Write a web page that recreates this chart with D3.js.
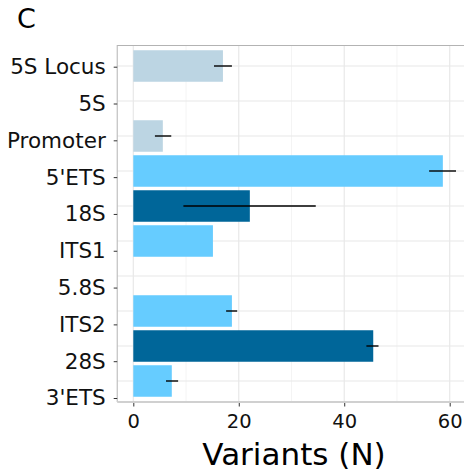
<!DOCTYPE html>
<html>
<head>
<meta charset="utf-8">
<script src="https://cdn.jsdelivr.net/npm/d3@7"></script>
<style>
  body { margin: 0; background: #fff; }
  svg { display: block; font-family: "DejaVu Sans", sans-serif; }
</style>
</head>
<body>
<div class="chart"></div>
<script>
// data
const categories = ["5S Locus", "5S", "Promoter", "5'ETS", "18S", "ITS1", "5.8S", "ITS2", "28S", "3'ETS"];
const groups = ["5S", "5S", "5S", "spacer", "gene", "spacer", "gene", "spacer", "gene", "spacer"];
const variants = [17.0, 0, 5.6, 58.7, 22.1, 15.1, 0, 18.7, 45.5, 7.3];
const lower = [15.3, null, 4.1, 56.1, 9.5, null, null, 17.6, 44.2, 6.2];
const upper = [18.7, null, 7.2, 61.2, 34.6, null, null, 19.7, 46.5, 8.5];
const xTicks = [0, 20, 40, 60];
const xMinor = [10, 30, 50];

const width = 464, height = 474;
const panel = { top: 45, bottom: 402 };

const rows = categories.map(function(c, i) {
  return { cat: c, group: groups[i], value: variants[i], lo: lower[i], hi: upper[i] };
});

const svg = d3.select('.chart').append('svg')
              .attr('width', width).attr('height', height);

// scales
const x = d3.scaleLinear().domain([0, 60]).range([133.3, 449.7]);
const xLo = -3.05, xHi = 64.3;
const yBar = d3.scaleBand().domain(categories)
               .range([panel.top, panel.bottom]).paddingInner(0.1).paddingOuter(0.15);
// the axis labels sit on their own spacing in the original
const yLab = d3.scalePoint().domain(categories).range([66.7, 398]);
const colour = d3.scaleOrdinal().domain(['5S', 'spacer', 'gene'])
                 .range(['#bcd5e3', '#66ccff', '#006699']);

// panel background + grid
svg.append('rect')
   .attr('x', x(xLo)).attr('y', panel.top)
   .attr('width', x(xHi) - x(xLo)).attr('height', panel.bottom - panel.top)
   .attr('fill', '#fff');

svg.append('g').selectAll('line').data(xMinor).enter().append('line')
   .attr('x1', d => x(d)).attr('x2', d => x(d))
   .attr('y1', panel.top).attr('y2', panel.bottom)
   .attr('stroke', '#f4f4f4').attr('stroke-width', 1);

svg.append('g').selectAll('line').data(xTicks).enter().append('line')
   .attr('x1', d => x(d)).attr('x2', d => x(d))
   .attr('y1', panel.top).attr('y2', panel.bottom)
   .attr('stroke', '#e8e8e8').attr('stroke-width', 1.2);

svg.append('g').selectAll('line').data(categories).enter().append('line')
   .attr('x1', x(xLo)).attr('x2', x(xHi))
   .attr('y1', d => yBar(d) + yBar.bandwidth() / 2)
   .attr('y2', d => yBar(d) + yBar.bandwidth() / 2)
   .attr('stroke', '#e8e8e8').attr('stroke-width', 1.2);

// bars
svg.append('g').selectAll('rect').data(rows.filter(d => d.value > 0)).enter().append('rect')
   .attr('x', x(0)).attr('y', d => yBar(d.cat))
   .attr('width', d => x(d.value) - x(0)).attr('height', yBar.bandwidth())
   .attr('fill', d => colour(d.group));

// error bars
svg.append('g').selectAll('line').data(rows.filter(d => d.lo != null)).enter().append('line')
   .attr('x1', d => x(d.lo)).attr('x2', d => x(d.hi))
   .attr('y1', d => yBar(d.cat) + yBar.bandwidth() / 2)
   .attr('y2', d => yBar(d.cat) + yBar.bandwidth() / 2)
   .attr('stroke', '#000').attr('stroke-width', 1.4);

// panel border
svg.append('line').attr('x1', x(xLo)).attr('x2', width)
   .attr('y1', panel.top + 0.5).attr('y2', panel.top + 0.5)
   .attr('stroke', '#b3b3b3');
svg.append('line').attr('x1', x(xLo)).attr('x2', x(xLo))
   .attr('y1', panel.top).attr('y2', panel.bottom)
   .attr('stroke', '#b3b3b3');
svg.append('line').attr('x1', x(xLo)).attr('x2', width)
   .attr('y1', panel.bottom).attr('y2', panel.bottom)
   .attr('stroke', '#d0d0d0').attr('stroke-width', 2);

// axes
const xAxis = svg.append('g')
   .attr('transform', 'translate(0,' + (panel.bottom + 1) + ')')
   .call(d3.axisBottom(x).tickValues(xTicks).tickSize(3.5).tickPadding(8));
xAxis.select('.domain').remove();
xAxis.selectAll('line').attr('stroke', '#333');
xAxis.selectAll('text').attr('font-size', 19.5).attr('fill', '#111')
     .attr('font-family', '"DejaVu Sans", sans-serif');

const yAxis = svg.append('g')
   .attr('transform', 'translate(' + x(xLo) + ',0)')
   .call(d3.axisLeft(yLab).tickSize(3.5).tickPadding(8));
yAxis.select('.domain').remove();
yAxis.selectAll('line').attr('stroke', '#333');
yAxis.selectAll('text').attr('font-size', 21.5).attr('fill', '#111')
     .attr('font-family', '"DejaVu Sans", sans-serif');

// titles
svg.append('text')
   .attr('x', 294).attr('y', 464.5)
   .attr('text-anchor', 'middle').attr('font-size', 31).attr('fill', '#000')
   .text('Variants (N)');

svg.append('text')
   .attr('x', 17).attr('y', 28.3)
   .attr('font-size', 27).attr('fill', '#000')
   .text('C');
</script>
</body>
</html>
